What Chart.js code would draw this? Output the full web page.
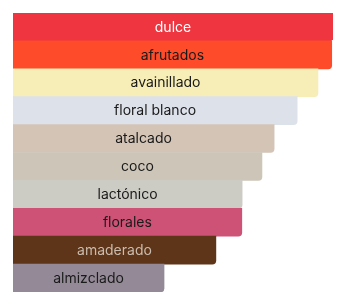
<!DOCTYPE html>
<html>
<head>
<meta charset="utf-8">
<script src="https://cdn.jsdelivr.net/npm/chart.js@4"></script>
<style>
  html, body { margin: 0; padding: 0; background: #fff; }
  #wrap { width: 342px; height: 304px; }
</style>
</head>
<body>
<div id="wrap"><canvas id="notesChart" width="342" height="304"></canvas></div>
<script>
const notes = ['dulce', 'afrutados', 'avainillado', 'floral blanco', 'atalcado', 'coco', 'lactónico', 'florales', 'amaderado', 'almizclado'];
const strength = [100, 99.6, 95.3, 88.8, 81.6, 77.8, 71.6, 71.5, 63.4, 47.2];
const barColors = ['#ee3540', '#fe4b29', '#f7edb6', '#dde1ea', '#d3c4b6', '#cdc6b8', '#cccbc4', '#cd5276', '#5e3519', '#948a97'];
const textColors = ['#ffffff', '#1a1a1a', '#1a1a1a', '#1a1a1a', '#1a1a1a', '#1a1a1a', '#1a1a1a', '#1a1a1a', '#c9bcae', '#1a1a1a'];

// draw the note names centred inside each bar
const barLabels = {
  id: 'barLabels',
  afterDatasetsDraw(chart) {
    const ctx = chart.ctx;
    const meta = chart.getDatasetMeta(0);
    ctx.save();
    ctx.font = '14px Inter, "Noto Sans", sans-serif';
    ctx.textAlign = 'center';
    ctx.textBaseline = 'middle';
    meta.data.forEach((bar, i) => {
      ctx.fillStyle = textColors[i];
      ctx.fillText(notes[i], (bar.base + bar.x) / 2, bar.y + 0.5);
    });
    ctx.restore();
  }
};

const ctx = document.getElementById('notesChart').getContext('2d');
new Chart(ctx, {
  type: 'bar',
  data: {
    labels: notes,
    datasets: [{
      data: strength,
      backgroundColor: barColors,
      borderRadius: { topLeft: 0, topRight: 0, bottomLeft: 0, bottomRight: 4 },
      borderSkipped: 'start',
      barPercentage: 1,
      categoryPercentage: 1
    }]
  },
  options: {
    responsive: false,
    animation: false,
    indexAxis: 'y',
    layout: { padding: { left: 13, top: 13, right: 9, bottom: 12 } },
    plugins: {
      legend: { display: false },
      tooltip: { enabled: false }
    },
    scales: {
      x: { display: false, min: 0, max: 100 },
      y: { display: false }
    }
  },
  plugins: [barLabels]
});
</script>
</body>
</html>
